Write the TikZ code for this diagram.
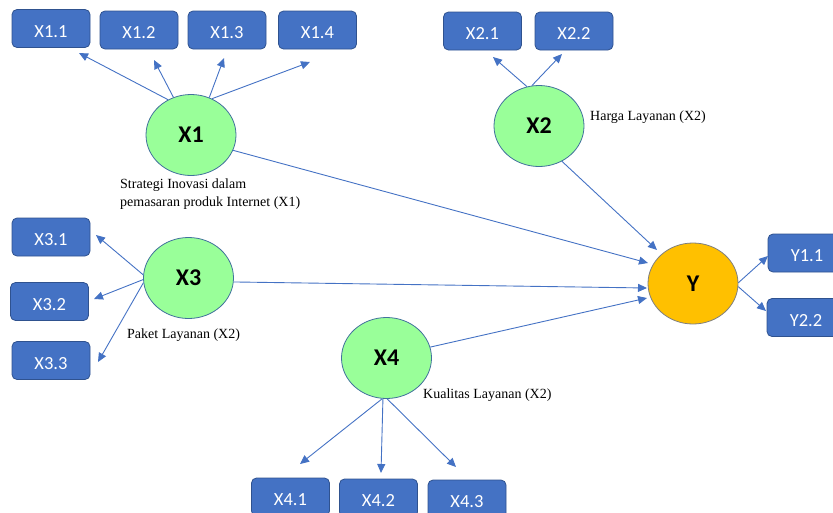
\documentclass[tikz,border=0pt]{standalone}
\usepackage{fontspec}
\setmainfont{Liberation Serif}
\newfontfamily\boxfont{Carlito}
\usetikzlibrary{shapes.geometric,arrows.meta}
\definecolor{boxblue}{HTML}{4472C4}
\definecolor{boxedge}{HTML}{2F528F}
\definecolor{lvgreen}{HTML}{99FF99}
\definecolor{lvedge}{HTML}{41719C}
\definecolor{ygold}{HTML}{FFC000}
\definecolor{yedge}{HTML}{7F7F7F}
\tikzset{
  indbox/.style={rectangle, rounded corners=5pt, fill=boxblue, draw=boxedge, line width=0.8pt,
    minimum width=78pt, minimum height=38pt, inner sep=0pt, text=white,
    text height=17.5pt, text depth=0pt,
    font=\boxfont\fontsize{18.5}{21}\selectfont},
  latent/.style={ellipse, fill=lvgreen, draw=lvedge, line width=0.8pt,
    minimum width=90pt, minimum height=81pt, inner sep=0pt,
    font=\boxfont\bfseries\fontsize{24}{28}\selectfont},
  ylatent/.style={latent, fill=ygold, draw=yedge},
  arr/.style={draw=boxblue, line width=0.9pt, -{Triangle[length=9pt,width=8pt]}},
  lbl/.style={anchor=west, inner sep=0pt, align=left, font=\fontsize{14}{18}\selectfont}
}
\begin{document}
\begin{tikzpicture}[x=1pt,y=-1pt]
\useasboundingbox (0,0) rectangle (833,512);
\begin{scope}
\clip (0,0) rectangle (833,512);
% indicator boxes
\node[indbox] (b11) at (51,28.5) {X1.1};
\node[indbox] (b12) at (139,30) {X1.2};
\node[indbox] (b13) at (227,30) {X1.3};
\node[indbox] (b14) at (317.5,30) {X1.4};
\node[indbox] (b21) at (482.5,31) {X2.1};
\node[indbox] (b22) at (574,31) {X2.2};
\node[indbox] (b31) at (51,237) {X3.1};
\node[indbox] (b32) at (49.5,301.5) {X3.2};
\node[indbox] (b33) at (51,360.5) {X3.3};
\node[indbox] (b41) at (290.5,497) {X4.1};
\node[indbox] (b42) at (378.5,498) {X4.2};
\node[indbox] (b43) at (467,499) {X4.3};
\node[indbox] (by1) at (807,253) {Y1.1};
\node[indbox] (by2) at (806,317.5) {Y2.2};
% latent variables
\node[latent] (x1) at (191,135) {X1};
\node[latent] (x2) at (539,126) {X2};
\node[latent] (x3) at (188.5,278) {X3};
\node[latent] (x4) at (386.5,358) {X4};
\node[ylatent] (y) at (693,283.5) {Y};
% labels
\node[lbl] (l1) at (120,194) {Strategi Inovasi dalam\\pemasaran produk Internet (X1)};
\node[lbl] (l2) at (590,117) {Harga Layanan (X2)};
\node[lbl] (l3) at (127,335) {Paket Layanan (X2)};
\node[lbl] (l4) at (423,395) {Kualitas Layanan (X2)};
% arrow tips
\coordinate (t11) at (79,53);
\coordinate (t12) at (154,60);
\coordinate (t13) at (224,58);
\coordinate (t14) at (310,62);
\coordinate (t21) at (493,57);
\coordinate (t22) at (562,54);
\coordinate (t31) at (96,235);
\coordinate (t32) at (94,299);
\coordinate (t33) at (98,362);
\coordinate (t41) at (300,464);
\coordinate (t42) at (381,473);
\coordinate (t43) at (456,467);
\coordinate (ty1) at (768,256);
\coordinate (ty2) at (766,311);
\coordinate (yi1) at (648,263);
\coordinate (yi2) at (657,250);
\coordinate (yi3) at (647,288);
\coordinate (yi4) at (647,298);
% connectors
\draw[arr] (x1.123) -- (t11);
\draw[arr] (x1.115) -- (t12);
\draw[arr] (x1.64) -- (t13);
\draw[arr] (x1.60) -- (t14);
\draw[arr] (x2.107) -- (t21);
\draw[arr] (x2.100) -- (t22);
\draw[arr] (x3.176) -- (t31);
\draw[arr] (x3.182) -- (t32);
\draw[arr] (x3.186) -- (t33);
\draw[arr] (x4.-96) -- (t41);
\draw[arr] (x4.-95) -- (t42);
\draw[arr] (x4.-89) -- (t43);
\draw[arr] (y.1) -- (ty1);
\draw[arr] (y.-4) -- (ty2);
\draw[arr] (x1.-20) -- (yi1);
\draw[arr] (x2.-57) -- (yi2);
\draw[arr] (x3.-5) -- (yi3);
\draw[arr] (x4.14) -- (yi4);
\end{scope}
\end{tikzpicture}
\end{document}
